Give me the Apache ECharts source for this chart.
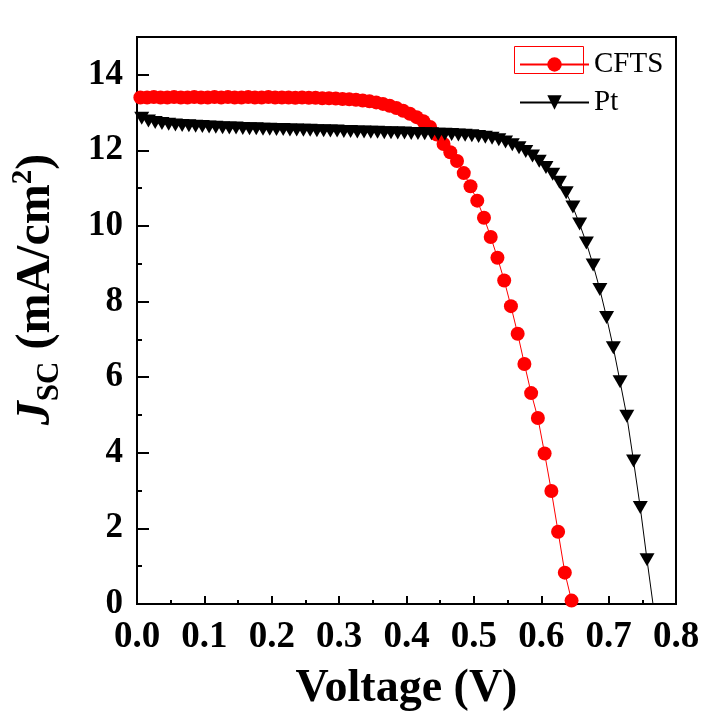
<!DOCTYPE html>
<html><head><meta charset="utf-8">
<script src="https://cdn.jsdelivr.net/npm/echarts@6/dist/echarts.min.js"></script>
<style>html,body{margin:0;padding:0;background:#fff}#c{width:704px;height:721px}</style>
</head><body><div id="c"></div>
<script>
const seriesNames = ['CFTS', 'Pt'];
const cftsV = [0.005,0.015,0.025,0.035,0.045,0.055,0.065,0.075,0.085,0.095,0.105,0.115,0.125,0.135,0.145,0.155,0.165,0.175,0.185,0.195,0.205,0.215,0.225,0.235,0.245,0.255,0.265,0.275,0.285,0.295,0.305,0.315,0.325,0.335,0.345,0.355,0.365,0.375,0.385,0.395,0.405,0.415,0.425,0.435,0.445,0.455,0.465,0.475,0.485,0.495,0.505,0.515,0.525,0.535,0.545,0.555,0.565,0.575,0.585,0.595,0.605,0.615,0.625,0.635,0.645];
const cftsJ = [13.40,13.40,13.41,13.40,13.40,13.41,13.40,13.40,13.41,13.40,13.40,13.41,13.40,13.41,13.40,13.40,13.41,13.40,13.40,13.41,13.40,13.40,13.40,13.39,13.40,13.39,13.39,13.38,13.38,13.37,13.36,13.35,13.34,13.32,13.30,13.27,13.23,13.18,13.12,13.05,12.97,12.88,12.77,12.62,12.42,12.17,11.95,11.72,11.40,11.05,10.67,10.22,9.71,9.16,8.56,7.88,7.15,6.35,5.58,4.92,3.98,2.99,1.91,0.83,0.09];
const ptV = [0.007,0.017,0.027,0.037,0.047,0.057,0.067,0.077,0.087,0.097,0.107,0.117,0.127,0.137,0.147,0.157,0.167,0.177,0.187,0.197,0.207,0.217,0.227,0.237,0.247,0.257,0.267,0.277,0.287,0.297,0.307,0.317,0.327,0.337,0.347,0.357,0.367,0.377,0.387,0.397,0.407,0.417,0.427,0.437,0.447,0.457,0.467,0.477,0.487,0.497,0.507,0.517,0.527,0.537,0.547,0.557,0.567,0.577,0.587,0.597,0.607,0.617,0.627,0.637,0.647,0.657,0.667,0.677,0.687,0.697,0.707,0.717,0.727,0.737,0.747,0.757,0.767];
const ptJ = [12.85,12.78,12.74,12.71,12.69,12.67,12.66,12.65,12.64,12.63,12.62,12.61,12.60,12.59,12.59,12.58,12.57,12.57,12.56,12.56,12.55,12.55,12.54,12.54,12.53,12.53,12.52,12.52,12.51,12.51,12.50,12.50,12.49,12.49,12.48,12.48,12.47,12.47,12.46,12.46,12.45,12.45,12.44,12.44,12.43,12.43,12.42,12.41,12.40,12.39,12.37,12.35,12.32,12.28,12.22,12.15,12.07,11.97,11.85,11.71,11.55,11.37,11.16,10.88,10.50,10.05,9.55,8.97,8.32,7.58,6.78,5.88,4.97,3.78,2.55,1.17,-0.15];
const xRange = [0, 0.8];
const yRange = [0, 15];

const FONT = 'Liberation Serif';
const chart = echarts.init(document.getElementById('c'), null, {renderer: 'canvas'});
const zip = (a, b) => a.map((v, i) => [v, b[i]]);
chart.setOption({
  animation: false,
  backgroundColor: '#fff',
  textStyle: {fontFamily: FONT},
  grid: {left: 137, right: 28, top: 37, bottom: 117, show: true, borderColor: '#000', borderWidth: 2, backgroundColor: 'transparent'},
  legend: {
    left: 514, top: 45, orient: 'vertical', itemWidth: 69, itemHeight: 18, itemGap: 9, itemTextGap: 5,
    textStyle: {fontFamily: FONT, fontSize: 29, lineHeight: 28, color: '#000'},
    data: seriesNames
  },
  graphic: [{type: 'rect', shape: {x: 514.5, y: 46.5, width: 69, height: 27}, style: {fill: 'none', stroke: '#ff0000', lineWidth: 1}, z: 100}],
  xAxis: {
    type: 'value', min: xRange[0], max: xRange[1], interval: 0.1,
    name: 'Voltage (V)', nameLocation: 'middle', nameGap: 62,
    nameTextStyle: {fontFamily: FONT, fontWeight: 'bold', fontSize: 46, color: '#000'},
    axisLine: {show: true, lineStyle: {color: '#000', width: 2}},
    axisTick: {show: true, inside: true, length: 8, lineStyle: {color: '#000', width: 2}},
    minorTick: {show: true, splitNumber: 2, length: 4, lineStyle: {color: '#000', width: 2}},
    splitLine: {show: false}, minorSplitLine: {show: false},
    axisLabel: {fontFamily: FONT, fontWeight: 'bold', fontSize: 37, color: '#000', margin: 15, formatter: v => v.toFixed(1)}
  },
  yAxis: [{
    type: 'value', min: yRange[0], max: yRange[1], interval: 2,
    name: '{j|J}{sub|SC}{n| (mA/cm}{sup|2}{n|)}', nameLocation: 'middle', nameGap: 72,
    nameTextStyle: {
      fontFamily: FONT, fontWeight: 'bold', fontSize: 48, color: '#000', padding: [0, 0, 0, 62],
      rich: {
        j: {fontFamily: FONT, fontStyle: 'italic', fontWeight: 'bold', fontSize: 48, lineHeight: 56, color: '#000'},
        n: {fontFamily: FONT, fontWeight: 'bold', fontSize: 48, lineHeight: 56, color: '#000'},
        sub: {fontFamily: FONT, fontWeight: 'bold', fontSize: 31, lineHeight: 29, verticalAlign: 'bottom', color: '#000'},
        sup: {fontFamily: FONT, fontWeight: 'bold', fontSize: 29, lineHeight: 29, verticalAlign: 'top', color: '#000'}
      }
    },
    axisLine: {show: true, lineStyle: {color: '#000', width: 2}},
    axisTick: {show: true, inside: true, length: 12, lineStyle: {color: '#000', width: 2}},
    splitLine: {show: false},
    axisLabel: {fontFamily: FONT, fontWeight: 'bold', fontSize: 35, color: '#000', margin: 14, showMaxLabel: false,
      formatter: v => (v % 2 === 0 ? String(v) : '')}
  }, {
    type: 'value', min: yRange[0], max: yRange[1], interval: 1, position: 'left',
    axisLine: {show: false}, axisLabel: {show: false}, splitLine: {show: false},
    axisTick: {show: true, inside: true, length: 5, lineStyle: {color: '#000', width: 2}}
  }],
  series: [{
    name: 'CFTS', type: 'line', data: zip(cftsV, cftsJ),
    symbol: 'circle', symbolSize: 14, showAllSymbol: true,
    lineStyle: {color: '#ff0000', width: 1}, itemStyle: {color: '#ff0000'}, clip: true, z: 2
  }, {
    name: 'Pt', type: 'line', data: zip(ptV, ptJ),
    symbol: 'triangle', symbolRotate: 180, symbolSize: [15, 13], showAllSymbol: true,
    lineStyle: {color: '#000', width: 1}, itemStyle: {color: '#000'}, clip: true, z: 3
  }]
});
</script></body></html>
